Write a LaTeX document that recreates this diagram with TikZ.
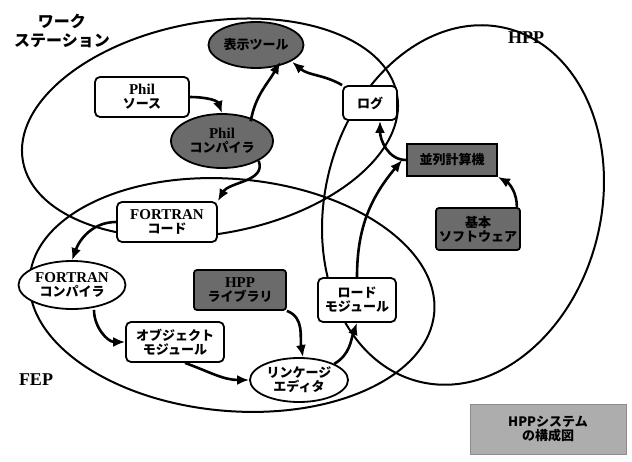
\documentclass[tikz,border=0pt]{standalone}
\usepackage{fontspec}
\setmainfont{Liberation Serif}
\newfontfamily\jp{Noto Sans CJK JP}
\newcommand\latw[1]{{\fontsize{15}{16}\selectfont #1}}
\usetikzlibrary{shapes.geometric,arrows.meta}
\begin{document}
\begin{tikzpicture}[x=1pt,y=-1pt,
  every node/.style={font=\fontsize{13}{14}\selectfont\bfseries, align=center, inner sep=1pt},
  region/.style={line width=2pt},
  wbox/.style={draw, line width=1.8pt, rounded corners=5pt, fill=white},
  well/.style={draw, line width=1.8pt, ellipse, fill=white},
  dbox/.style={draw, line width=1.8pt, rounded corners=3pt, fill=black!58},
  dell/.style={draw, line width=1.8pt, ellipse, fill=black!58},
  flow/.style={line width=2.6pt, -{Latex[length=12pt,width=10pt]}},
  lbl/.style={font=\fontsize{16}{19}\selectfont\bfseries}
]
\useasboundingbox (0,0) rectangle (632,462);
% regions
\draw[region, rotate around={10:(210,128)}] (210,128) ellipse [x radius=190, y radius=106];
\draw[region, rotate around={-5:(232,295)}] (232,295) ellipse [x radius=203, y radius=116];
\draw[region, rotate around={-14:(463,205)}] (463,205) ellipse [x radius=138, y radius=182];
% labels
\node[lbl] (ws) at (62,31) {\jp ワーク\\\jp ステーション};
\node[lbl, font=\fontsize{18}{20}\selectfont\bfseries] (hpp) at (526,38) {HPP};
\node[lbl, font=\fontsize{18}{20}\selectfont\bfseries] (fep) at (36,380) {FEP};
% nodes
\node[dell, minimum width=95, minimum height=46] (tool) at (256,45) {\jp 表示ツール};
\node[wbox, minimum width=94, minimum height=40] (psrc) at (142,97) {\latw{Phil}\\{\jp ソース}};
\node[dell, minimum width=102, minimum height=54] (pcomp) at (222,141) {\latw{Phil}\\{\jp コンパイラ}};
\node[wbox, minimum width=54, minimum height=34] (log) at (370,103) {\jp ログ};
\node[dbox, rounded corners=0pt, minimum width=90, minimum height=32] (hw) at (452,160) {\jp 並列計算機};
\node[dbox, minimum width=84, minimum height=42] (sw) at (478,229) {\jp 基本\\\jp ソフトウェア};
\node[wbox, minimum width=100, minimum height=40] (fcode) at (167,222) {\latw{FORTRAN}\\{\jp コード}};
\node[well, minimum width=106, minimum height=48] (fcomp) at (72,285) {\latw{FORTRAN}\\{\jp コンパイラ}};
\node[dbox, minimum width=92, minimum height=40] (lib) at (240,290) {\latw{HPP}\\{\jp ライブラリ}};
\node[wbox, minimum width=78, minimum height=44] (load) at (357,300) {\jp ロード\\\jp モジュール};
\node[wbox, minimum width=98, minimum height=40] (obj) at (175,342) {\jp オブジェクト\\\jp モジュール};
\node[well, minimum width=98, minimum height=44] (link) at (299,380) {\jp リンケージ\\\jp エディタ};
\node[draw=black!45, fill=black!32, minimum width=156, minimum height=50] (cap) at (548,429) {\jp HPPシステム\\\jp の構成図};
% flows
\draw[flow] (psrc.east) to[out=0, in=110] (pcomp.north);
\draw[flow] ([xshift=-8pt]pcomp.north east) to[out=80, in=-120] ([xshift=-10pt]tool.south east);
\draw[flow] (log.north west) to[out=150, in=-40] ([xshift=2pt]tool.south east);
\draw[flow] (pcomp.south east) to[out=-70, in=60] (fcode.north east);
\draw[flow] (fcode.west) to[out=180, in=70] (fcomp.north);
\draw[flow] ([xshift=22pt]fcomp.south) to[out=-90, in=180] (obj.west);
\draw[flow] ([xshift=10pt]obj.south) to[out=-20, in=180] (link.west);
\draw[flow] (link.north east) to[out=30, in=-110] (load.south);
\draw[flow] (lib.south east) to[out=-20, in=100] ([xshift=4pt]link.north);
\draw[flow] (load.north) to[out=90, in=-130] ([xshift=-4pt]hw.west);
\draw[flow] (hw.west) to[out=180, in=-90] ([xshift=10pt]log.south);
\draw[flow] ([xshift=-4pt]sw.north east) to[out=90, in=-30] (hw.south east);
\end{tikzpicture}
\end{document}
